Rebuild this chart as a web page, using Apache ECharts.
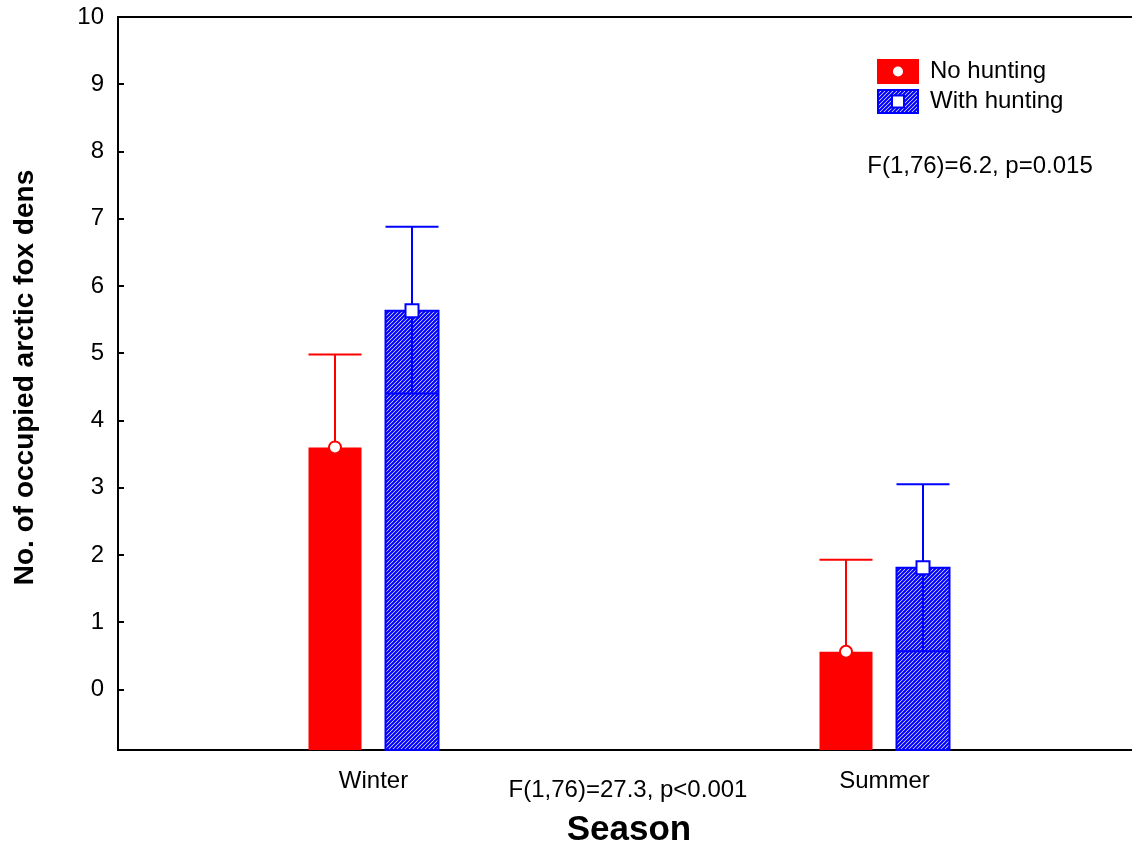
<!DOCTYPE html>
<html>
<head>
<meta charset="utf-8">
<script src="https://cdn.jsdelivr.net/npm/echarts@6/dist/echarts.min.js"></script>
<style>
  html, body { margin: 0; padding: 0; background: #fff; }
  #chart { width: 1132px; height: 848px; }
</style>
</head>
<body>
<div id="chart"></div>
<script>
// data
var seasons = ['Winter', 'Summer'];
var noHuntMean = [3.60, 0.56];
var noHuntUpper = [4.98, 1.93];
var noHuntLower = [2.22, -0.81];
var huntMean = [5.63, 1.81];
var huntUpper = [6.88, 3.05];
var huntLower = [4.40, 0.57];
var yTicks = [0, 1, 2, 3, 4, 5, 6, 7, 8, 9, 10];

var Y_MIN = -0.9, Y_MAX = 10;
var BAR_W = 53, OFFSET = 38.5;
var FONT = '"Liberation Sans", Arial, Helvetica, sans-serif';
var RED = '#ff0000', BLUE = '#0000ff';

function hatch() {
  var p = 4, c = document.createElement('canvas');
  c.width = p; c.height = p;
  var g = c.getContext('2d');
  g.fillStyle = '#fff';
  g.fillRect(0, 0, p, p);
  g.strokeStyle = BLUE;
  g.lineWidth = 2.2;
  g.beginPath();
  g.moveTo(0, p); g.lineTo(p, 0);
  g.moveTo(-1, 1); g.lineTo(1, -1);
  g.moveTo(p - 1, p + 1); g.lineTo(p + 1, p - 1);
  g.stroke();
  return c;
}
var hatchCanvas = hatch();

// legend swatches
function legendIcon(kind) {
  var c = document.createElement('canvas');
  c.width = 42; c.height = 25;
  var g = c.getContext('2d');
  if (kind === 'red') {
    g.fillStyle = RED;
    g.fillRect(0, 0, 42, 25);
    g.fillStyle = '#fff';
    g.beginPath();
    g.arc(21, 12.5, 5, 0, Math.PI * 2);
    g.fill();
  } else {
    g.fillStyle = g.createPattern(hatchCanvas, 'repeat');
    g.fillRect(0, 0, 42, 25);
    g.strokeStyle = BLUE;
    g.lineWidth = 2;
    g.strokeRect(1, 1, 40, 23);
    g.fillStyle = '#fff';
    g.fillRect(15, 6.5, 12, 12);
    g.strokeRect(15, 6.5, 12, 12);
  }
  return 'image://' + c.toDataURL();
}

function rows(mean, lower, upper) {
  return mean.map(function (m, i) { return [i, m, lower[i], upper[i]]; });
}

// solid bars hide the lower half of the error bar, hatched ones show it
function renderGroup(offset, fill, color, borderW, marker, showLower) {
  return function (params, api) {
    var i = api.value(0);
    var x = api.coord([i, 0])[0] + offset;
    var yb = api.coord([i, Y_MIN])[1];
    var ym = api.coord([i, api.value(1)])[1];
    var yl = api.coord([i, api.value(2)])[1];
    var yu = api.coord([i, api.value(3)])[1];
    var h = BAR_W / 2;
    var lineStyle = { stroke: color, lineWidth: 2 };
    var kids = [
      { type: 'rect', shape: { x: x - h, y: ym, width: BAR_W, height: yb - ym },
        style: { fill: fill, stroke: borderW ? color : null, lineWidth: borderW } }
    ];
    if (showLower) {
      kids.push(
        { type: 'line', shape: { x1: x, y1: yl, x2: x, y2: ym }, style: lineStyle },
        { type: 'line', shape: { x1: x - h, y1: yl, x2: x + h, y2: yl }, style: lineStyle }
      );
    }
    kids.push(
      { type: 'line', shape: { x1: x, y1: ym, x2: x, y2: yu }, style: lineStyle },
      { type: 'line', shape: { x1: x - h, y1: yu, x2: x + h, y2: yu }, style: lineStyle }
    );
    if (marker === 'circle') {
      kids.push({ type: 'circle', shape: { cx: x, cy: ym, r: 6 },
        style: { fill: '#fff', stroke: color, lineWidth: 2 } });
    } else {
      kids.push({ type: 'rect', shape: { x: x - 6.5, y: ym - 6.5, width: 13, height: 13 },
        style: { fill: '#fff', stroke: color, lineWidth: 2 } });
    }
    return { type: 'group', children: kids };
  };
}

var chart = echarts.init(document.getElementById('chart'));
chart.setOption({
  animation: false,
  textStyle: { fontFamily: FONT, color: '#000' },
  grid: {
    left: 118, right: -8, top: 17, bottom: 98,
    outerBoundsMode: 'none',
    show: true, borderColor: '#000', borderWidth: 2
  },
  legend: {
    orient: 'vertical',
    left: 877, top: 59,
    padding: 0,
    itemWidth: 42, itemHeight: 25, itemGap: 5,
    selectedMode: false,
    textStyle: { fontSize: 24, color: '#000', padding: [0, 0, 0, 6] },
    data: [
      { name: 'No hunting', icon: legendIcon('red') },
      { name: 'With hunting', icon: legendIcon('blue') }
    ]
  },
  xAxis: {
    type: 'category',
    data: seasons,
    name: 'Season',
    nameLocation: 'middle',
    nameGap: 63,
    nameTextStyle: { fontSize: 35, fontWeight: 'bold', color: '#000' },
    axisLine: { onZero: false, lineStyle: { color: '#000', width: 2 } },
    axisTick: { inside: true, length: 6, alignWithLabel: true, lineStyle: { color: '#000', width: 2 } },
    axisLabel: { fontSize: 24, color: '#000', margin: 19 },
    splitLine: { show: false }
  },
  yAxis: {
    type: 'value',
    min: Y_MIN, max: Y_MAX,
    name: 'No. of occupied arctic fox dens',
    nameLocation: 'middle',
    nameGap: 79,
    nameTextStyle: { fontSize: 28, fontWeight: 'bold', color: '#000', padding: [0, 0, 0, 12] },
    axisLine: { show: true, onZero: false, lineStyle: { color: '#000', width: 2 } },
    axisTick: { show: true, inside: true, length: 6, customValues: yTicks, lineStyle: { color: '#000', width: 2 } },
    axisLabel: { fontSize: 24, color: '#000', margin: 14, customValues: yTicks },
    splitLine: { show: false }
  },
  graphic: [
    { type: 'text', x: 628, y: 790,
      style: { text: 'F(1,76)=27.3, p<0.001', fontSize: 24, fontFamily: FONT, fill: '#000', align: 'center', verticalAlign: 'middle' } },
    { type: 'text', x: 980, y: 166,
      style: { text: 'F(1,76)=6.2, p=0.015', fontSize: 24, fontFamily: FONT, fill: '#000', align: 'center', verticalAlign: 'middle' } }
  ],
  series: [
    {
      name: 'No hunting',
      type: 'custom',
      data: rows(noHuntMean, noHuntLower, noHuntUpper),
      itemStyle: { color: RED },
      renderItem: renderGroup(-OFFSET, RED, RED, 0, 'circle', false)
    },
    {
      name: 'With hunting',
      type: 'custom',
      data: rows(huntMean, huntLower, huntUpper),
      itemStyle: { color: BLUE },
      renderItem: renderGroup(OFFSET, { image: hatchCanvas, repeat: 'repeat' }, BLUE, 2, 'square', true)
    }
  ]
});
</script>
</body>
</html>
